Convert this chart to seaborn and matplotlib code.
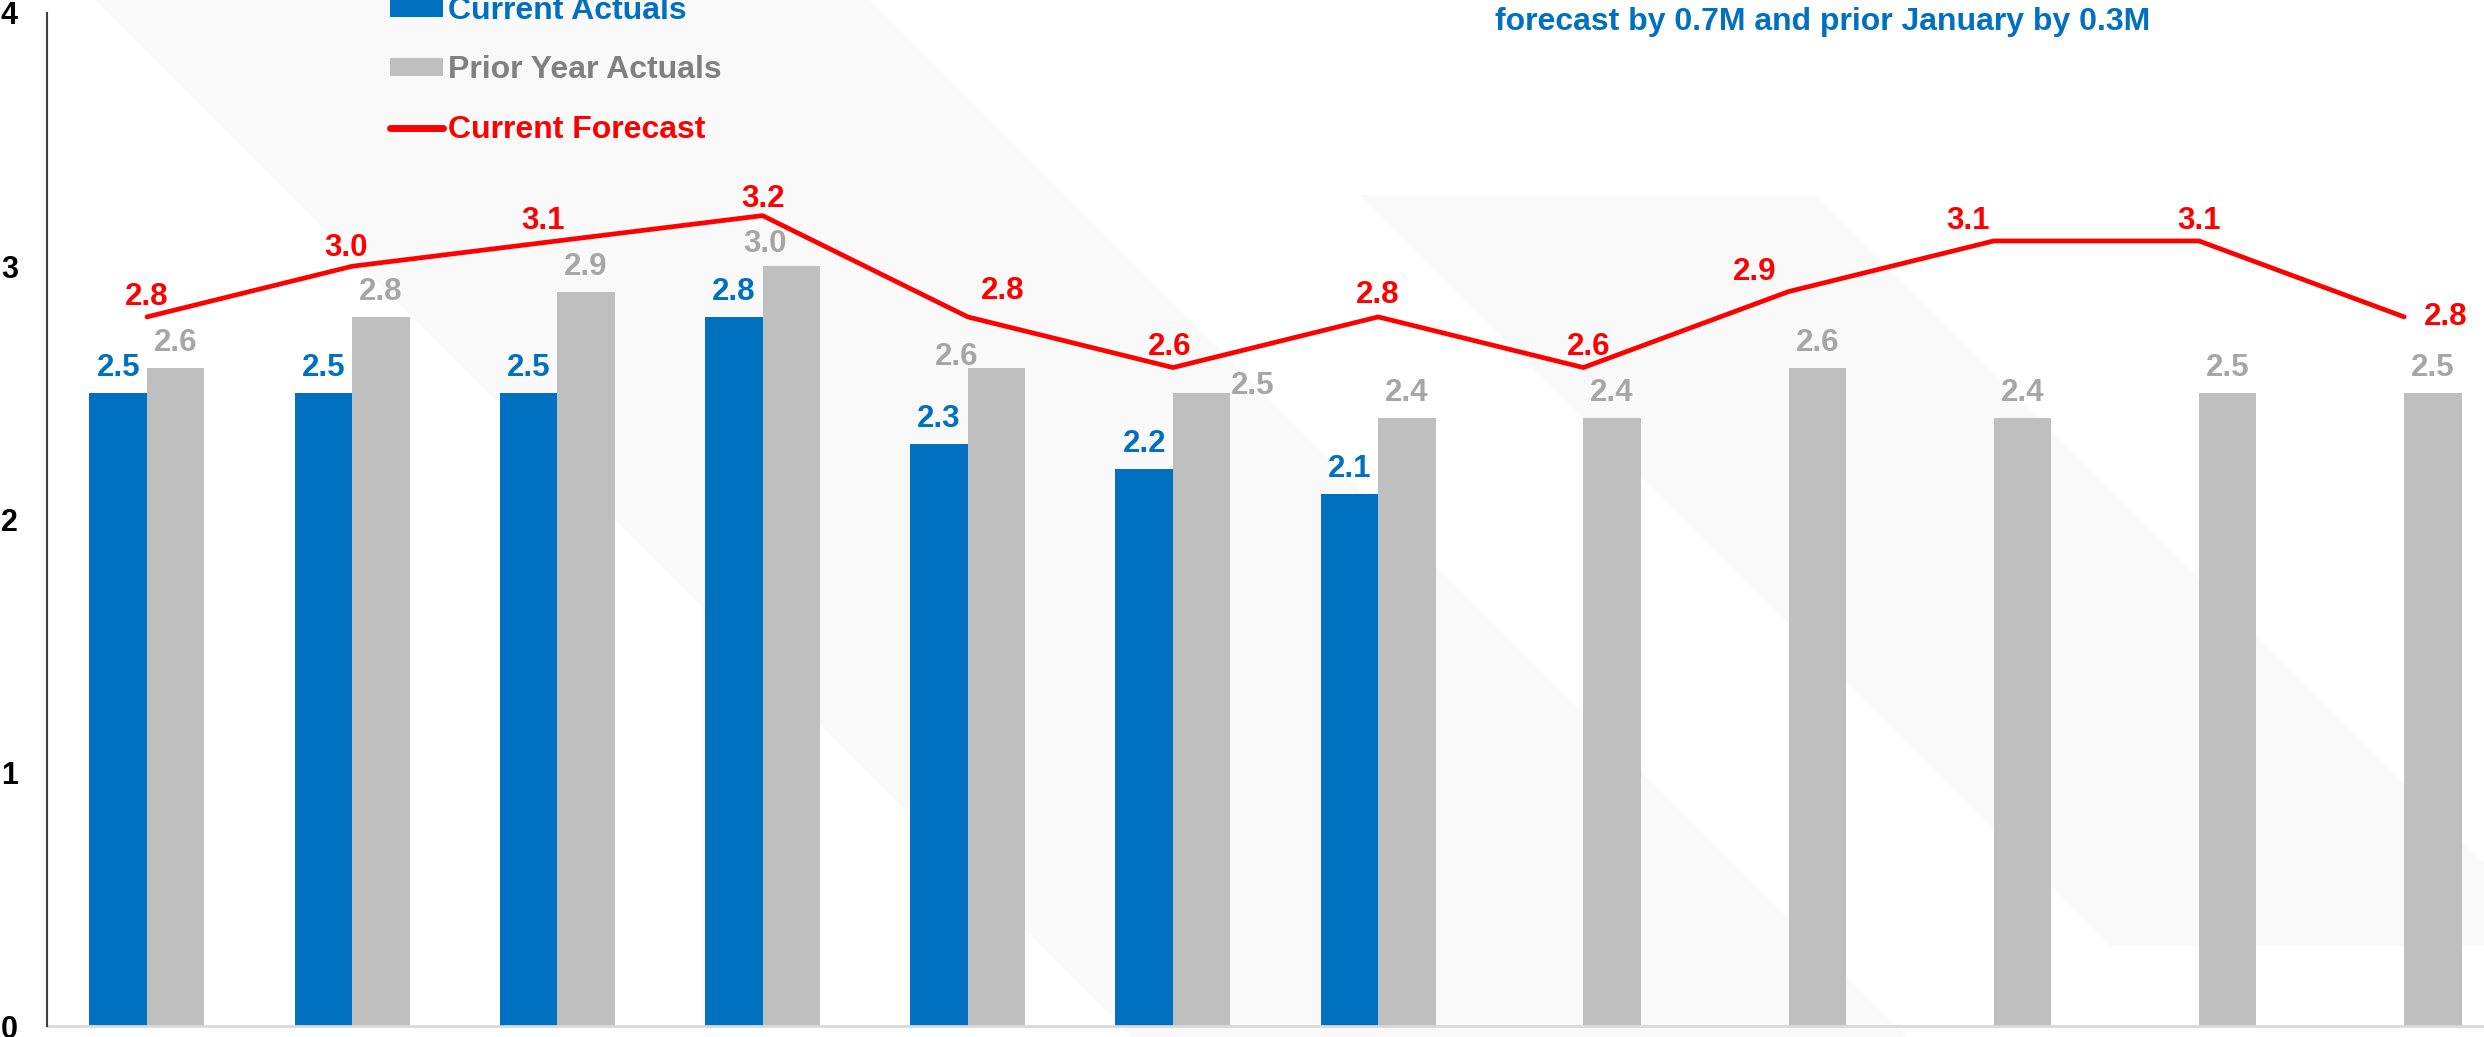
import numpy as np
import pandas as pd
import matplotlib
matplotlib.use("Agg")
import matplotlib.pyplot as plt
import seaborn as sns
from matplotlib.patches import Polygon, Patch
from matplotlib.lines import Line2D

# ---------------- data ----------------
months = ["Jan", "Feb", "Mar", "Apr", "May", "Jun", "Jul", "Aug", "Sep", "Oct", "Nov", "Dec"]
current_actuals = [2.5, 2.5, 2.5, 2.8, 2.3, 2.2, 2.1, np.nan, np.nan, np.nan, np.nan, np.nan]
prior_year_actuals = [2.6, 2.8, 2.9, 3.0, 2.6, 2.5, 2.4, 2.4, 2.6, 2.4, 2.5, 2.5]
current_forecast = [2.8, 3.0, 3.1, 3.2, 2.8, 2.6, 2.8, 2.6, 2.9, 3.1, 3.1, 2.8]
series_names = ["Current Actuals", "Prior Year Actuals", "Current Forecast"]
y_ticks = [0, 1, 2, 3, 4]
note_text = "forecast by 0.7M and prior January by 0.3M"

# ---------------- style ----------------
BLUE = "#0070C0"
GRAY = "#BFBFBF"
GRAY_LABEL = "#A6A6A6"
GRAY_LEGEND = "#808080"
RED = "#FF0000"
BAND = "#F9F9F9"

sns.set_style("white")
plt.rcParams["font.family"] = ["Liberation Sans", "DejaVu Sans"]
plt.rcParams["font.weight"] = "bold"

W, H = 2484, 1037
fig = plt.figure(figsize=(W / 100, H / 100), dpi=100)
fig.patch.set_facecolor("white")


def fpx(x, y):
    return (x / W, 1 - y / H)


# faint diagonal background bands (slide decoration)
bands = [
    [(95, 0), (870, 0), (870 + 1037, 1037), (95 + 1037, 1037)],
    [(1165 + 195, 195), (1620 + 195, 195), (1620 + 946, 946), (1165 + 946, 946)],
]
for b in bands:
    fig.add_artist(Polygon([fpx(*p) for p in b], closed=True, facecolor=BAND,
                           edgecolor="none", transform=fig.transFigure, zorder=0))

ax = fig.add_axes([47 / W, (H - 1026) / H, 1 - 47 / W, (1026 - 13) / H])
ax.patch.set_alpha(0)

df = pd.DataFrame({
    "month": months * 2,
    "series": [series_names[0]] * 12 + [series_names[1]] * 12,
    "value": list(current_actuals) + list(prior_year_actuals),
})
sns.barplot(data=df, x="month", y="value", hue="series", order=months,
            hue_order=series_names[:2], palette=[BLUE, GRAY], width=0.56, gap=0,
            dodge=True, errorbar=None, saturation=1, legend=False, ax=ax,
            linewidth=0, zorder=2)

xpos = np.arange(len(months))
sns.lineplot(x=xpos, y=current_forecast, color=RED, linewidth=3.4, ax=ax,
             legend=False, zorder=4, solid_joinstyle="round", solid_capstyle="round")

ax.set_ylim(0, 4)
ax.set_xlim(-0.487, 11.389)
ax.set_yticks(y_ticks)
ax.set_yticklabels([str(t) for t in y_ticks], fontsize=22, fontweight="bold", color="black")
ax.set_xticks([])
ax.set_xlabel("")
ax.set_ylabel("")
ax.tick_params(axis="y", length=0, pad=21)
for s in ["top", "right"]:
    ax.spines[s].set_visible(False)
ax.spines["left"].set_color("#404040")
ax.spines["left"].set_linewidth(1.5)
ax.spines["bottom"].set_color("#D9D9D9")
ax.spines["bottom"].set_linewidth(2)
ax.spines["left"].set_zorder(5)

PX = 0.72  # points per pixel
half = 0.14
LBL = dict(fontsize=22.5, fontweight="bold", textcoords="offset points", zorder=6)

# blue labels
for i, v in enumerate(current_actuals):
    if np.isnan(v):
        continue
    ax.annotate(f"{v:.1f}", (i - half, v), xytext=(0, 17 * PX), ha="center", va="baseline",
                color=BLUE, **LBL)

# gray labels (dx px, dy px, va)
gray_off = [(0, 17, "baseline")] * 12
gray_off[3] = (-26, 14, "baseline")
gray_off[4] = (-40, 3, "baseline")
gray_off[5] = (51, 7, "center")
for i, v in enumerate(prior_year_actuals):
    dx, dy, va = gray_off[i]
    ax.annotate(f"{v:.1f}", (i + half, v), xytext=(dx * PX, dy * PX), ha="center", va=va,
                color=GRAY_LABEL, **LBL)

# red labels
red_off = [(0, 12, "center", "baseline"), (-6, 10, "center", "baseline"), (-14, 12, "center", "baseline"),
           (0, 9, "center", "baseline"), (35, 18, "center", "baseline"), (-3, 13, "center", "baseline"),
           (0, 14, "center", "baseline"), (5, 13, "center", "baseline"), (-34, 12, "center", "baseline"),
           (-26, 12, "center", "baseline"), (0, 12, "center", "baseline"), (20, 0, "left", "center")]
for i, v in enumerate(current_forecast):
    dx, dy, ha, va = red_off[i]
    ax.annotate(f"{v:.1f}", (i, v), xytext=(dx * PX, dy * PX), ha=ha, va=va,
                color=RED, **LBL)

# legend
handles = [Patch(facecolor=BLUE, edgecolor="none"), Patch(facecolor=GRAY, edgecolor="none"),
           Line2D([0], [0], color=RED, linewidth=5)]
fig.legend(handles, series_names, loc="upper left", bbox_to_anchor=(390 / W, 1 + 4 / H),
           frameon=False, prop={"family": "Liberation Sans", "weight": "bold", "size": 23},
           labelcolor=[BLUE, GRAY_LEGEND, RED], handlelength=1.67, handleheight=0.48,
           handletextpad=0.16, labelspacing=0.92, borderpad=0, borderaxespad=0)

fig.text(1495 / W, 1 - 22 / H, note_text, color=BLUE, fontsize=23, fontweight="bold",
         ha="left", va="center")

fig.savefig("out.png", dpi=100, facecolor="white")
